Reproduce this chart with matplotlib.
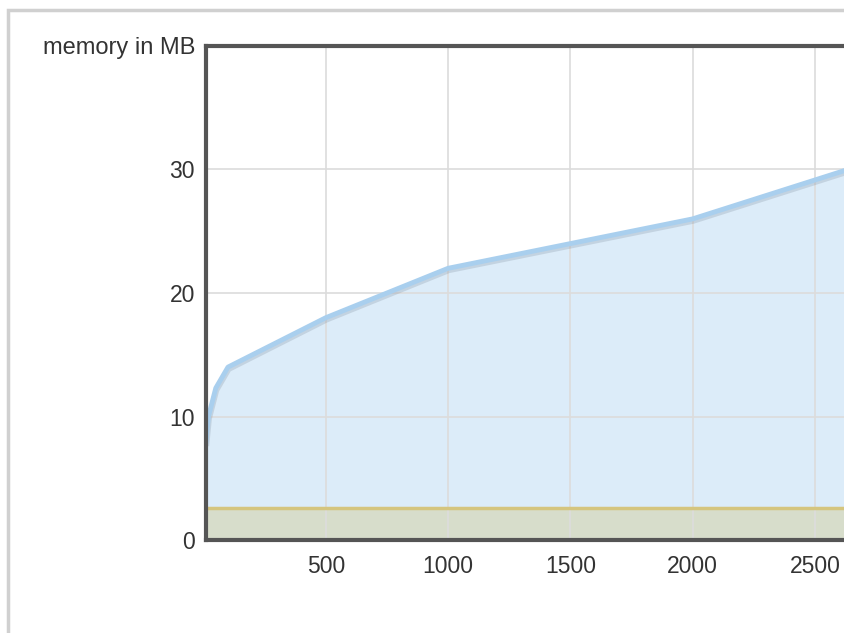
import numpy as np
import matplotlib.pyplot as plt
from matplotlib.patches import Rectangle
import matplotlib.patheffects as pe

plt.rcParams["font.family"] = ["Liberation Sans", "DejaVu Sans"]

# memory usage readings (x = items, y = MB)
mem_x = [10, 20, 50, 100, 500, 1000, 1500, 2000, 3000]
mem_y = [8.0, 10.0, 12.3, 14.0, 18.0, 22.0, 24.0, 26.0, 32.3]
base_x = [0, 3000]
base_y = [2.6, 2.6]
xticks = [500, 1000, 1500, 2000, 2500]
yticks = [0, 10, 20, 30]

W, H = 845, 633
fig = plt.figure(figsize=(W / 100, H / 100), dpi=100)
fig.patch.set_facecolor("white")

# outer frame of the widget
fig.patches.append(Rectangle((8 / W, -0.1), 2, (H - 10) / H + 0.1,
                             transform=fig.transFigure, fill=False,
                             edgecolor="#d0d0d0", linewidth=2.5))

ax = fig.add_axes([206 / W, 1 - 540 / H, 1 - 206 / W + 0.002, (540 - 46) / H])
ax.set_xlim(10, 2630)
ax.set_ylim(0, 40)

ax.fill_between(mem_x, mem_y, color="#dcecf9", zorder=1)
ax.fill_between(base_x, base_y, color="#d7ddcb", zorder=2)
ax.plot(mem_x, mem_y, color="#a9cfee", linewidth=3.5, zorder=4,
        solid_joinstyle="round",
        path_effects=[pe.SimpleLineShadow(offset=(0.5, -1.5), shadow_color="#7a8a9a",
                                          alpha=0.25, linewidth=4),
                      pe.Normal()])
ax.plot(base_x, base_y, color="#d5c57e", linewidth=2.5, zorder=4)

ax.set_xticks(xticks)
ax.set_yticks(yticks)
ax.grid(True, color="#dcdcdc", linewidth=1.2, zorder=3)
ax.set_axisbelow(False)
for gl in ax.get_xgridlines() + ax.get_ygridlines():
    gl.set_zorder(3)
ax.tick_params(length=0, labelsize=16.5, labelcolor="#333333")
ax.tick_params(axis="x", pad=11)
ax.tick_params(axis="y", pad=8)

for side in ["left", "top", "bottom"]:
    ax.spines[side].set_color("#555555")
    ax.spines[side].set_linewidth(3)
    ax.spines[side].set_zorder(6)
ax.spines["right"].set_visible(False)

fig.text(195 / W, 1 - 48 / H, "memory in MB", ha="right", va="center",
         fontsize=17, color="#333333")

plt.savefig("out.png", dpi=100)
plt.close()
